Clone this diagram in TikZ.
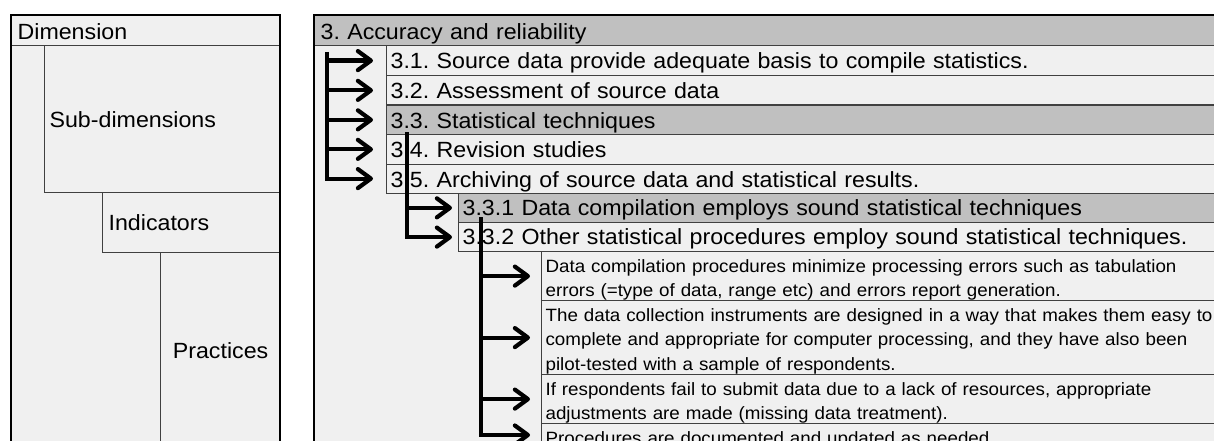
\documentclass[tikz,border=0pt]{standalone}
\usepackage{fontspec}
\setmainfont{Liberation Sans}[FakeStretch=1.055]
\usetikzlibrary{arrows.meta}
\definecolor{cellfill}{HTML}{F0F0F0}
\definecolor{hdrfill}{HTML}{C0C0C0}
\definecolor{gridline}{HTML}{404040}
\frenchspacing
\begin{document}
\begin{tikzpicture}[x=1pt,y=-1pt,
  box/.style={draw=gridline, line width=1.2pt, fill=cellfill, anchor=north west,
    inner xsep=4pt, inner ysep=0pt, align=left, font=\fontsize{22}{26}\selectfont\frenchspacing},
  gray/.style={fill=hdrfill},
  small/.style={font=\fontsize{17.8}{24.3}\selectfont\frenchspacing, text height=21pt},
  frame/.style={draw=black, line width=2pt},
  arr/.style={line width=4.2pt, draw=black, line join=miter,
    -{Straight Barb[length=13pt,width=19pt,round]}}]
\clip (0,0) rectangle (1214,441);
% ---------- left panel ----------
\fill[cellfill] (11,15) rectangle (280,470);
\node[box, inner xsep=6pt, text width=257pt, text height=24pt, text depth=6pt] (dim) at (11,15) {Dimension};
\node[box, inner xsep=5pt, text width=226pt, text height=82pt, text depth=65pt] (sub) at (44,45) {Sub-dimensions};
\node[box, inner xsep=6pt, text width=166pt, text height=38pt, text depth=22pt] (ind) at (102,192) {Indicators};
\node[box, align=center, text width=112pt, text height=106pt, text depth=112pt] (prac) at (160,252) {Practices};
\draw[frame] (11,15) rectangle (280,470);
% ---------- right panel ----------
\fill[cellfill] (314,15) rectangle (1240,470);
\node[box, gray, inner xsep=6pt, text width=914pt, text height=24pt, text depth=6pt] (hdr) at (314,15) {3. Accuracy and reliability};
\node[box, text width=846pt, text height=23pt, text depth=7pt] (r31) at (386,45) {3.1. Source data provide adequate basis to compile statistics.};
\node[box, text width=846pt, text height=23pt, text depth=6.5pt] (r32) at (386,75) {3.2. Assessment of source data};
\node[box, gray, text width=846pt, text height=23pt, text depth=6.5pt] (r33) at (386,104.5) {3.3. Statistical techniques};
\node[box, text width=846pt, text height=23pt, text depth=6.5pt] (r34) at (386,134) {3.4. Revision studies};
\node[box, text width=846pt, text height=23pt, text depth=6pt] (r35) at (386,163.5) {3.5. Archiving of source data and statistical results.};
\node[box, gray, text width=774pt, text height=22pt, text depth=7.5pt] (i331) at (458,192.5) {3.3.1 Data compilation employs sound statistical techniques};
\node[box, text width=774pt, text height=22pt, text depth=7pt] (i332) at (458,222) {3.3.2 Other statistical procedures employ sound statistical techniques.};
\node[box, small, text width=691pt, text depth=28pt] (p1) at (541,251) {Data compilation procedures minimize processing errors such as tabulation\\errors (=type of data, range etc) and errors report generation.};
\node[box, small, text width=691pt, text depth=53pt] (p2) at (541,300) {The data collection instruments are designed in a way that makes them easy to\\complete and appropriate for computer processing, and they have also been\\pilot-tested with a sample of respondents.};
\node[box, small, text width=691pt, text depth=28pt] (p3) at (541,374) {If respondents fail to submit data due to a lack of resources, appropriate\\adjustments are made (missing data treatment).};
\node[box, small, text width=691pt, text depth=30pt] (p4) at (541,423) {Procedures are documented and updated as needed};
\draw[frame] (314,15) rectangle (1240,470);
% ---------- arrows ----------
\coordinate (t1) at (327,52);
\draw[arr] (t1) |- ([xshift=-13pt]r35.west);
\foreach \r in {r31,r32,r33,r34}
  \draw[arr] (t1 |- \r.west) -- ([xshift=-13pt]\r.west);
\coordinate (t2) at (407,132);
\draw[arr] (t2) |- ([xshift=-6pt]i332.west);
\draw[arr] (t2 |- i331.west) -- ([xshift=-6pt]i331.west);
\coordinate (t3) at (481,217);
\draw[arr] (t3) |- ([xshift=-11pt,yshift=-12pt]p4.north west);
\foreach \r in {p1,p2,p3}
  \draw[arr] (t3 |- \r.west) -- ([xshift=-11pt]\r.west);
\end{tikzpicture}
\end{document}
